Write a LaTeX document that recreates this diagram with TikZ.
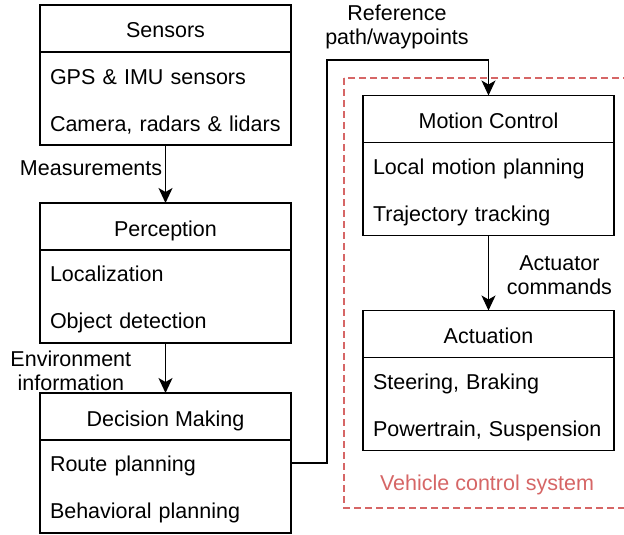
\documentclass[tikz,border=0pt]{standalone}
\usepackage{fontspec}
\setmainfont{Liberation Sans}
\usepackage{xcolor}
\usepackage{tikz}
\usetikzlibrary{positioning,arrows.meta}
\definecolor{vcsred}{RGB}{214,102,102}

\begin{document}
\begin{tikzpicture}[x=1pt,y=1pt,line width=1.4pt,
    every node/.style={font=\fontsize{21.5}{26}\selectfont,outer sep=0pt},
    head/.style={draw,shape=rectangle,minimum width=251pt,minimum height=47pt,inner sep=0pt,text height=19pt,text depth=0pt},
    body/.style={draw,shape=rectangle,minimum height=93pt,text width=231pt,inner xsep=10pt,align=left,
      execute at begin node=\rule{0pt}{22pt}},
    arr/.style={-{Stealth[length=15pt,width=14pt,inset=4pt]}},
    flow/.style={align=center,yshift=-2.5pt}]
  \clip (0,0) rectangle (624,-535);
  \fill[white] (0,0) rectangle (624,-535);
  % left column
  \node[head] (sensh) at (165.5,-28.5) {Sensors};
  \node[body,below=0pt of sensh] (sensb) {GPS \& IMU sensors\\[21pt]Camera, radars \& lidars};
  \node[head] (perch) at (165.5,-226.5) {Perception};
  \node[body,below=0pt of perch] (percb) {Localization\\[21pt]Object detection};
  \node[head] (dech) at (165.5,-416.5) {Decision Making};
  \node[body,below=0pt of dech] (decb) {Route planning\\[21pt]Behavioral planning};
  % right column
  \node[head] (mch) at (488.5,-119) {Motion Control};
  \node[body,below=0pt of mch] (mcb) {Local motion planning\\[21pt]Trajectory tracking};
  \node[head] (acth) at (488.5,-334) {Actuation};
  \node[body,below=0pt of acth] (actb) {Steering, Braking\\[21pt]Powertrain, Suspension};
  \draw[vcsred,dash pattern=on 7pt off 4pt] (344,-78) rectangle (640,-508);
  \node[text=vcsred] (vcs) at (487,-485) {Vehicle control system};
  \coordinate (turn) at (327,-60);
  \draw[arr] (sensb.south) -- (perch.north) node[pos=0.35,left,flow] (meas) {Measurements};
  \draw[arr] (percb.south) -- (dech.north) node[midway,left,xshift=-31pt,flow] (env) {Environment\\[-2pt]information};
  \draw[arr] ([yshift=23.5pt]decb.east) -| (turn) -| (mch.north);
  \node[flow] (ref) at (397,-24) {Reference\\[-2pt]path/waypoints};
  \draw[arr] (mcb.south) -- (acth.north) node[midway,right,xshift=15pt,flow] (cmd) {Actuator\\[-2pt]commands};
\end{tikzpicture}
\end{document}
